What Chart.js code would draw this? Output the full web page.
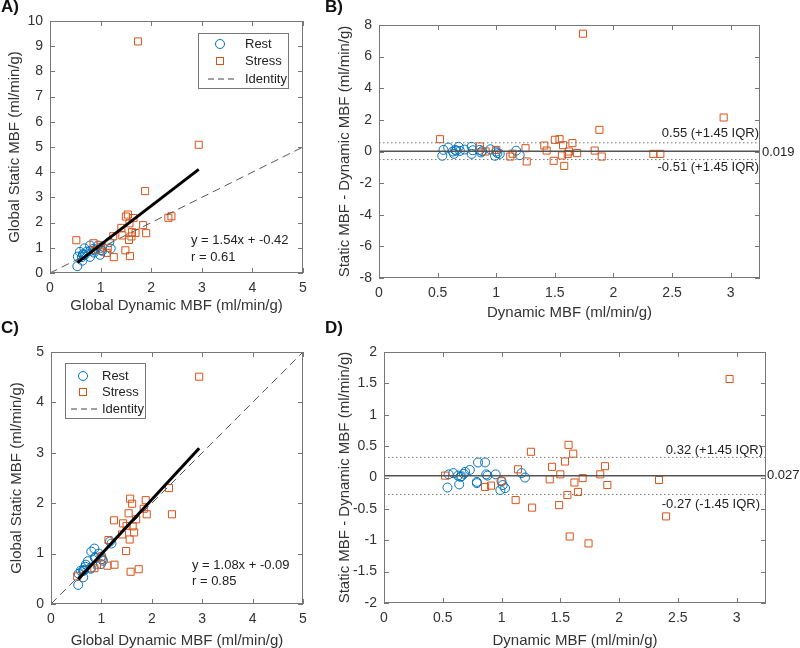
<!DOCTYPE html>
<html>
<head>
<meta charset="utf-8">
<script src="https://cdn.jsdelivr.net/npm/chart.js@4.4.0/dist/chart.umd.min.js"></script>
<style>
  body { margin: 0; background: #fff; width: 800px; height: 648px; position: relative; overflow: hidden; font-family: "Liberation Sans", Arial, sans-serif; }
  canvas { position: absolute; }
  .tag { position: absolute; font-weight: bold; font-size: 17px; color: #111; }
</style>
</head>
<body>
<canvas id="chartA" width="400" height="324" style="left:0;top:0"></canvas>
<canvas id="chartB" width="480" height="324" style="left:320px;top:0"></canvas>
<canvas id="chartC" width="400" height="324" style="left:0;top:324px"></canvas>
<canvas id="chartD" width="480" height="324" style="left:320px;top:324px"></canvas>
<div class="tag" style="left:1px;top:-3px">A)</div>
<div class="tag" style="left:325px;top:-3px">B)</div>
<div class="tag" style="left:1px;top:318px">C)</div>
<div class="tag" style="left:325px;top:318px">D)</div>
<script>
// dynamic MBF (x axis) per scan
var restDyn = [0.54, 0.55, 0.59, 0.63, 0.64, 0.65, 0.66, 0.68, 0.69, 0.73, 0.79, 0.79, 0.80, 0.86, 0.87, 0.88, 0.95, 1.00, 0.99, 1.01, 1.03, 1.17, 1.20];
var stressDyn = [0.52, 0.86, 0.91, 1.00, 1.12, 1.14, 1.25, 1.26, 1.41, 1.43, 1.49, 1.50, 1.54, 1.56, 1.57, 1.58, 1.61, 1.62, 1.65, 1.69, 1.74, 1.84, 1.88, 1.90, 2.34, 2.40, 2.94];

// A) global static MBF
var restStaticA = [0.27, 0.65, 0.84, 0.63, 0.49, 0.75, 0.71, 0.98, 0.73, 0.85, 1.09, 0.64, 0.88, 0.96, 0.81, 0.90, 1.09, 1.00, 0.72, 0.91, 0.88, 1.22, 0.97];
var stressStaticA = [1.30, 1.18, 0.91, 1.10, 0.80, 1.00, 1.46, 0.63, 1.79, 1.49, 0.90, 2.24, 2.32, 1.31, 1.97, 0.67, 1.45, 1.62, 2.18, 1.59, 9.19, 1.90, 3.25, 1.58, 2.19, 2.25, 5.09];
// B) static - dynamic
var restDiffB = [-0.27, 0.10, 0.25, 0.00, -0.15, 0.10, 0.05, 0.30, 0.04, 0.12, 0.30, -0.15, 0.08, 0.10, -0.06, 0.02, 0.14, 0.00, -0.27, -0.10, -0.15, 0.05, -0.23];
var stressDiffB = [0.78, 0.32, 0.00, 0.10, -0.32, -0.14, 0.21, -0.63, 0.38, 0.06, -0.59, 0.74, 0.78, -0.25, 0.40, -0.91, -0.16, 0.00, 0.53, -0.10, 7.45, 0.06, 1.37, -0.32, -0.15, -0.15, 2.15];

// C) global static MBF (corrected)
var restStaticC = [0.38, 0.60, 0.66, 0.66, 0.53, 0.66, 0.68, 0.74, 0.78, 0.85, 0.72, 0.70, 1.04, 1.10, 0.92, 0.91, 1.00, 0.94, 0.79, 0.89, 0.86, 1.24, 1.20];
var stressStaticC = [0.55, 0.71, 0.78, 0.94, 0.76, 1.27, 1.66, 0.78, 1.38, 1.60, 1.05, 1.55, 1.80, 1.28, 2.09, 0.64, 1.99, 1.54, 1.42, 1.68, 0.69, 1.89, 2.06, 1.78, 2.30, 1.78, 4.51];
// D) static - dynamic
var restDiffD = [-0.16, 0.05, 0.07, 0.03, -0.11, 0.01, 0.02, 0.06, 0.09, 0.12, -0.07, -0.09, 0.24, 0.24, 0.05, 0.03, 0.05, -0.06, -0.20, -0.12, -0.17, 0.07, 0.00];
var stressDiffD = [0.03, -0.15, -0.13, -0.06, -0.36, 0.13, 0.41, -0.48, -0.03, 0.17, -0.44, 0.05, 0.255, -0.28, 0.52, -0.94, 0.38, -0.08, -0.23, -0.01, -1.05, 0.05, 0.18, -0.12, -0.04, -0.62, 1.57];

// regression line end points and identity
var fitA = [[0.54, 0.41], [2.94, 4.11]];
var fitC = [[0.54, 0.49], [2.94, 3.09]];
var identity = [[0, 0], [5, 5]];
// bland-altman: upper limit, mean, lower limit
var limitsB = [0.55, 0.019, -0.51];
var limitsD = [0.32, 0.027, -0.27];

var blue = '#0072BD', orange = '#D95319';
Chart.defaults.font.family = '"Liberation Sans", Arial, sans-serif';
Chart.defaults.color = '#333';

function pts(xs, ys) { return xs.map(function (x, i) { return { x: x, y: ys[i] }; }); }
function pairs(arr) { return arr.map(function (p) { return { x: p[0], y: p[1] }; }); }

// box round the axes with inward ticks, matlab style
var matlabBox = {
  id: 'matlabBox',
  afterDatasetsDraw: function (chart) {
    var a = chart.chartArea, ctx = chart.ctx, sx = chart.scales.x, sy = chart.scales.y;
    ctx.save();
    ctx.strokeStyle = '#777';
    ctx.lineWidth = 1;
    ctx.beginPath();
    sx.ticks.forEach(function (t) {
      var p = Math.round(sx.getPixelForValue(t.value)) + 0.5;
      ctx.moveTo(p, a.bottom); ctx.lineTo(p, a.bottom - 5);
      ctx.moveTo(p, a.top); ctx.lineTo(p, a.top + 5);
    });
    sy.ticks.forEach(function (t) {
      var p = Math.round(sy.getPixelForValue(t.value)) + 0.5;
      ctx.moveTo(a.left, p); ctx.lineTo(a.left + 5, p);
      ctx.moveTo(a.right, p); ctx.lineTo(a.right - 5, p);
    });
    ctx.stroke();
    ctx.strokeRect(Math.round(a.left) + 0.5, Math.round(a.top) + 0.5, Math.round(a.right - a.left) - 1, Math.round(a.bottom - a.top) - 1);
    ctx.restore();
  }
};

function legendBox(box, mx, tx, rows) {
  return {
    id: 'legendBox',
    afterDraw: function (chart) {
      var ctx = chart.ctx;
      ctx.save();
      ctx.fillStyle = '#fff';
      ctx.fillRect(box[0], box[1], box[2] - box[0], box[3] - box[1]);
      ctx.strokeStyle = '#777';
      ctx.lineWidth = 1;
      ctx.strokeRect(box[0] + 0.5, box[1] + 0.5, box[2] - box[0], box[3] - box[1]);
      ctx.strokeStyle = blue;
      ctx.beginPath(); ctx.arc(mx, rows[0], 4.5, 0, Math.PI * 2); ctx.stroke();
      ctx.strokeStyle = orange;
      ctx.strokeRect(mx - 3.5, rows[1] - 3.5, 7, 7);
      ctx.strokeStyle = '#444';
      ctx.setLineDash([6, 4]);
      ctx.beginPath(); ctx.moveTo(mx - 12, rows[2]); ctx.lineTo(mx + 14, rows[2]); ctx.stroke();
      ctx.setLineDash([]);
      ctx.fillStyle = '#222';
      ctx.font = '13px "Liberation Sans", Arial, sans-serif';
      ctx.textBaseline = 'middle';
      ctx.fillText('Rest', tx, rows[0]);
      ctx.fillText('Stress', tx, rows[1]);
      ctx.fillText('Identity', tx, rows[2]);
      ctx.restore();
    }
  };
}

// notes: [text, x px, y value or null, y px / offset, align]
function notes(list) {
  return {
    id: 'notes',
    afterDraw: function (chart) {
      var ctx = chart.ctx, sy = chart.scales.y;
      ctx.save();
      ctx.fillStyle = '#222';
      ctx.font = '13px "Liberation Sans", Arial, sans-serif';
      ctx.textBaseline = 'middle';
      list.forEach(function (n) {
        var y = n[2] === null ? n[3] : sy.getPixelForValue(n[2]) + n[3];
        ctx.textAlign = n[4];
        ctx.fillText(n[0], n[1], y);
      });
      ctx.restore();
    }
  };
}

function scatterSets(rx, ry, sx, sy) {
  return [
    { label: 'Rest', data: pts(rx, ry), pointStyle: 'circle', radius: 4.5, borderColor: blue, backgroundColor: 'rgba(0,0,0,0)', borderWidth: 1, order: 3 },
    { label: 'Stress', data: pts(sx, sy), pointStyle: 'rect', radius: 5, borderColor: orange, backgroundColor: 'rgba(0,0,0,0)', borderWidth: 1, order: 2 }
  ];
}

// matlab prints 1 not 1.0
function plainTick(v) { return String(Math.round(v * 100) / 100); }

function axes(o) {
  return {
    x: {
      type: 'linear', min: o.xmin, max: o.xmax,
      grid: { display: false, drawTicks: false }, border: { display: false },
      ticks: { stepSize: o.xstep, includeBounds: false, padding: 7, font: { size: 14 }, color: '#333', callback: plainTick },
      title: { display: true, text: o.xtitle, font: { size: 15, lineHeight: 1 }, color: '#333', padding: { top: 0, bottom: o.xpad } },
      afterFit: function (s) { s.height = o.xh; }
    },
    y: {
      type: 'linear', min: o.ymin, max: o.ymax,
      grid: { display: false, drawTicks: false }, border: { display: false },
      ticks: { stepSize: o.ystep, includeBounds: false, padding: 7, font: { size: 14 }, color: '#333', callback: plainTick },
      title: { display: true, text: o.ytitle, font: { size: 15, lineHeight: 1 }, color: '#333', padding: { top: o.ypad, bottom: 0 } },
      afterFit: function (s) { s.width = o.yw; }
    }
  };
}

function baseOptions(o) {
  return {
    responsive: false,
    animation: false,
    layout: { padding: { top: o.top, right: o.right, left: 0, bottom: 0 } },
    plugins: { legend: { display: false }, tooltip: { enabled: false } },
    scales: axes(o)
  };
}

// A) static vs dynamic
new Chart(document.getElementById('chartA'), {
  type: 'scatter',
  data: {
    datasets: scatterSets(restDyn, restStaticA, stressDyn, stressStaticA).concat([
      { type: 'line', label: 'fit', data: pairs(fitA), borderColor: '#000', borderWidth: 3, pointRadius: 0, order: 0 },
      { type: 'line', label: 'Identity', data: pairs(identity), borderColor: '#555', borderWidth: 1, borderDash: [8, 5], pointRadius: 0, order: 1 }
    ])
  },
  options: baseOptions({ top: 21, right: 97, xh: 51, yw: 50, xmin: 0, xmax: 5, xstep: 1, ymin: 0, ymax: 10, ystep: 1,
    xtitle: 'Global Dynamic MBF (ml/min/g)', ytitle: 'Global Static MBF (ml/min/g)', xpad: 11, ypad: 7 }),
  plugins: [matlabBox, legendBox([198, 33, 288, 88], 220, 245, [44, 61, 79]),
    notes([['y = 1.54x + -0.42', 191, null, 240, 'left'], ['r = 0.61', 191, null, 257, 'left']])]
});

// B) bland-altman
new Chart(document.getElementById('chartB'), {
  type: 'scatter',
  data: {
    datasets: scatterSets(restDyn, restDiffB, stressDyn, stressDiffB).concat([
      { type: 'line', label: 'mean', data: [{ x: 0, y: limitsB[1] }, { x: 3.25, y: limitsB[1] }], borderColor: '#555', borderWidth: 1.5, pointRadius: 0, order: 0 },
      { type: 'line', label: 'upper', data: [{ x: 0, y: limitsB[0] }, { x: 3.25, y: limitsB[0] }], borderColor: '#777', borderWidth: 1, borderDash: [1.5, 2.5], pointRadius: 0, order: 1 },
      { type: 'line', label: 'lower', data: [{ x: 0, y: limitsB[2] }, { x: 3.25, y: limitsB[2] }], borderColor: '#777', borderWidth: 1, borderDash: [1.5, 2.5], pointRadius: 0, order: 1 }
    ])
  },
  options: baseOptions({ top: 25, right: 40, xh: 46, yw: 59, xmin: 0, xmax: 3.25, xstep: 0.5, ymin: -8, ymax: 8, ystep: 2,
    xtitle: 'Dynamic MBF (ml/min/g)', ytitle: 'Static MBF - Dynamic MBF (ml/min/g)', xpad: 4, ypad: 17 }),
  plugins: [matlabBox, notes([
    [limitsB[0] + ' (+1.45 IQR)', 439, limitsB[0], -9, 'right'],
    [limitsB[2] + ' (+1.45 IQR)', 439, limitsB[2], 8, 'right'],
    [String(limitsB[1]), 442, limitsB[1], 1, 'left']
  ])]
});

// C) corrected static vs dynamic
new Chart(document.getElementById('chartC'), {
  type: 'scatter',
  data: {
    datasets: scatterSets(restDyn, restStaticC, stressDyn, stressStaticC).concat([
      { type: 'line', label: 'fit', data: pairs(fitC), borderColor: '#000', borderWidth: 3, pointRadius: 0, order: 0 },
      { type: 'line', label: 'Identity', data: pairs(identity), borderColor: '#555', borderWidth: 1, borderDash: [8, 5], pointRadius: 0, order: 1 }
    ])
  },
  options: baseOptions({ top: 28, right: 97, xh: 44, yw: 51, xmin: 0, xmax: 5, xstep: 1, ymin: 0, ymax: 5, ystep: 1,
    xtitle: 'Global Dynamic MBF (ml/min/g)', ytitle: 'Global Static MBF (ml/min/g)', xpad: 0, ypad: 9 }),
  plugins: [matlabBox, legendBox([65, 39, 145, 94], 83, 102, [52, 68, 85]),
    notes([['y = 1.08x + -0.09', 192, null, 241, 'left'], ['r = 0.85', 192, null, 257, 'left']])]
});

// D) bland-altman, corrected
new Chart(document.getElementById('chartD'), {
  type: 'scatter',
  data: {
    datasets: scatterSets(restDyn, restDiffD, stressDyn, stressDiffD).concat([
      { type: 'line', label: 'mean', data: [{ x: 0, y: limitsD[1] }, { x: 3.25, y: limitsD[1] }], borderColor: '#555', borderWidth: 1.5, pointRadius: 0, order: 0 },
      { type: 'line', label: 'upper', data: [{ x: 0, y: limitsD[0] }, { x: 3.25, y: limitsD[0] }], borderColor: '#777', borderWidth: 1, borderDash: [1.5, 2.5], pointRadius: 0, order: 1 },
      { type: 'line', label: 'lower', data: [{ x: 0, y: limitsD[2] }, { x: 3.25, y: limitsD[2] }], borderColor: '#777', borderWidth: 1, borderDash: [1.5, 2.5], pointRadius: 0, order: 1 }
    ])
  },
  options: baseOptions({ top: 28, right: 34, xh: 45, yw: 64, xmin: 0, xmax: 3.25, xstep: 0.5, ymin: -2, ymax: 2, ystep: 0.5,
    xtitle: 'Dynamic MBF (ml/min/g)', ytitle: 'Static MBF - Dynamic MBF (ml/min/g)', xpad: 0, ypad: 17 }),
  plugins: [matlabBox, notes([
    [limitsD[0] + ' (+1.45 IQR)', 443, limitsD[0], -7, 'right'],
    [limitsD[2] + ' (-1.45 IQR)', 440, limitsD[2], 10, 'right'],
    [String(limitsD[1]), 447, limitsD[1], 0, 'left']
  ])]
});
</script>
</body>
</html>
